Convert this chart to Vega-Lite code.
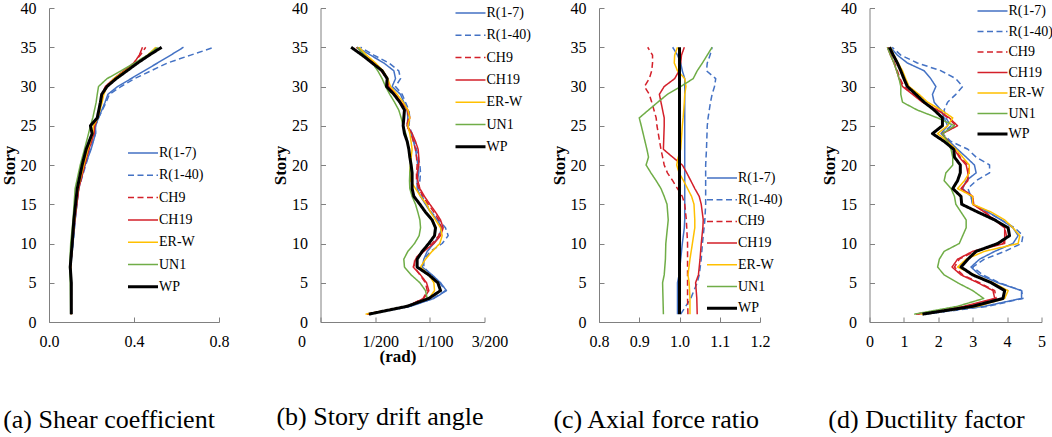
{
  "$schema": "https://vega.github.io/schema/vega-lite/v6.json",
  "padding": {"left": 0, "top": 0, "right": 0, "bottom": 0},
  "background": "white",
  "datasets": {
    "a": [
      {"s": 1, "R(1-7)": 0.105, "R(1-40)": 0.105, "CH9": 0.105, "CH19": 0.105, "ER-W": 0.105, "UN1": 0.102, "WP": 0.105},
      {"s": 5, "R(1-7)": 0.105, "R(1-40)": 0.105, "CH9": 0.105, "CH19": 0.105, "ER-W": 0.105, "UN1": 0.100, "WP": 0.105},
      {"s": 7, "R(1-7)": 0.102, "R(1-40)": 0.102, "CH9": 0.102, "CH19": 0.102, "ER-W": 0.102, "UN1": 0.097, "WP": 0.100},
      {"s": 10, "R(1-7)": 0.113, "R(1-40)": 0.113, "CH9": 0.109, "CH19": 0.110, "ER-W": 0.109, "UN1": 0.102, "WP": 0.109},
      {"s": 13, "R(1-7)": 0.123, "R(1-40)": 0.123, "CH9": 0.120, "CH19": 0.122, "ER-W": 0.120, "UN1": 0.113, "WP": 0.117},
      {"s": 17, "R(1-7)": 0.139, "R(1-40)": 0.140, "CH9": 0.139, "CH19": 0.140, "ER-W": 0.136, "UN1": 0.123, "WP": 0.133},
      {"s": 20, "R(1-7)": 0.170, "R(1-40)": 0.173, "CH9": 0.167, "CH19": 0.168, "ER-W": 0.164, "UN1": 0.147, "WP": 0.156},
      {"s": 22, "R(1-7)": 0.198, "R(1-40)": 0.195, "CH9": 0.186, "CH19": 0.188, "ER-W": 0.183, "UN1": 0.167, "WP": 0.175},
      {"s": 24, "R(1-7)": 0.219, "R(1-40)": 0.219, "CH9": 0.211, "CH19": 0.212, "ER-W": 0.206, "UN1": 0.186, "WP": 0.203},
      {"s": 25, "R(1-7)": 0.219, "R(1-40)": 0.219, "CH9": 0.214, "CH19": 0.215, "ER-W": 0.209, "UN1": 0.195, "WP": 0.195},
      {"s": 26, "R(1-7)": 0.233, "R(1-40)": 0.233, "CH9": 0.230, "CH19": 0.228, "ER-W": 0.230, "UN1": 0.206, "WP": 0.227},
      {"s": 28, "R(1-7)": 0.264, "R(1-40)": 0.269, "CH9": 0.245, "CH19": 0.243, "ER-W": 0.250, "UN1": 0.222, "WP": 0.242},
      {"s": 29, "R(1-7)": 0.277, "R(1-40)": 0.284, "CH9": 0.253, "CH19": 0.250, "ER-W": 0.258, "UN1": 0.227, "WP": 0.248},
      {"s": 30, "R(1-7)": 0.323, "R(1-40)": 0.339, "CH9": 0.269, "CH19": 0.265, "ER-W": 0.273, "UN1": 0.233, "WP": 0.273},
      {"s": 31, "R(1-7)": 0.386, "R(1-40)": 0.402, "CH9": 0.308, "CH19": 0.305, "ER-W": 0.305, "UN1": 0.273, "WP": 0.316},
      {"s": 32, "R(1-7)": 0.448, "R(1-40)": 0.480, "CH9": 0.355, "CH19": 0.352, "ER-W": 0.358, "UN1": 0.339, "WP": 0.367},
      {"s": 33, "R(1-7)": 0.511, "R(1-40)": 0.558, "CH9": 0.398, "CH19": 0.400, "ER-W": 0.414, "UN1": 0.402, "WP": 0.417},
      {"s": 34, "R(1-7)": 0.573, "R(1-40)": 0.667, "CH9": 0.430, "CH19": 0.425, "ER-W": 0.464, "UN1": 0.464, "WP": 0.472},
      {"s": 35, "R(1-7)": 0.633, "R(1-40)": 0.777, "CH9": 0.455, "CH19": 0.440, "ER-W": 0.503, "UN1": 0.511, "WP": 0.530}
    ],
    "b": [
      {"s": 1, "R(1-7)": 0.00442, "R(1-40)": 0.00442, "CH9": 0.00427, "CH19": 0.00427, "ER-W": 0.00412, "UN1": 0.00457, "WP": 0.00442},
      {"s": 2, "R(1-7)": 0.00823, "R(1-40)": 0.00823, "CH9": 0.00793, "CH19": 0.00793, "ER-W": 0.00793, "UN1": 0.00793, "WP": 0.00793},
      {"s": 3, "R(1-7)": 0.01037, "R(1-40)": 0.01030, "CH9": 0.00939, "CH19": 0.00945, "ER-W": 0.00991, "UN1": 0.00976, "WP": 0.00991},
      {"s": 4, "R(1-7)": 0.01152, "R(1-40)": 0.01143, "CH9": 0.00976, "CH19": 0.00991, "ER-W": 0.01043, "UN1": 0.00960, "WP": 0.01098},
      {"s": 5, "R(1-7)": 0.01098, "R(1-40)": 0.01091, "CH9": 0.00960, "CH19": 0.00970, "ER-W": 0.01037, "UN1": 0.00909, "WP": 0.01073},
      {"s": 6, "R(1-7)": 0.01021, "R(1-40)": 0.01012, "CH9": 0.00909, "CH19": 0.00915, "ER-W": 0.00991, "UN1": 0.00829, "WP": 0.00991},
      {"s": 7, "R(1-7)": 0.00930, "R(1-40)": 0.00945, "CH9": 0.00860, "CH19": 0.00848, "ER-W": 0.00915, "UN1": 0.00768, "WP": 0.00884},
      {"s": 8, "R(1-7)": 0.00945, "R(1-40)": 0.00945, "CH9": 0.00860, "CH19": 0.00869, "ER-W": 0.00960, "UN1": 0.00762, "WP": 0.00884},
      {"s": 9, "R(1-7)": 0.00976, "R(1-40)": 0.01006, "CH9": 0.00930, "CH19": 0.00945, "ER-W": 0.01021, "UN1": 0.00799, "WP": 0.00930},
      {"s": 10, "R(1-7)": 0.01037, "R(1-40)": 0.01113, "CH9": 0.01021, "CH19": 0.01037, "ER-W": 0.01091, "UN1": 0.00860, "WP": 0.00991},
      {"s": 11, "R(1-7)": 0.01082, "R(1-40)": 0.01168, "CH9": 0.01082, "CH19": 0.01098, "ER-W": 0.01113, "UN1": 0.00902, "WP": 0.01043},
      {"s": 12, "R(1-7)": 0.01113, "R(1-40)": 0.01143, "CH9": 0.01104, "CH19": 0.01122, "ER-W": 0.01098, "UN1": 0.00915, "WP": 0.01052},
      {"s": 13, "R(1-7)": 0.01067, "R(1-40)": 0.01082, "CH9": 0.01082, "CH19": 0.01098, "ER-W": 0.01052, "UN1": 0.00909, "WP": 0.01021},
      {"s": 14, "R(1-7)": 0.01006, "R(1-40)": 0.01012, "CH9": 0.01037, "CH19": 0.01052, "ER-W": 0.01006, "UN1": 0.00890, "WP": 0.00960},
      {"s": 15, "R(1-7)": 0.00960, "R(1-40)": 0.00970, "CH9": 0.00985, "CH19": 0.01000, "ER-W": 0.00970, "UN1": 0.00869, "WP": 0.00909},
      {"s": 16, "R(1-7)": 0.00915, "R(1-40)": 0.00930, "CH9": 0.00939, "CH19": 0.00951, "ER-W": 0.00915, "UN1": 0.00838, "WP": 0.00854},
      {"s": 17, "R(1-7)": 0.00884, "R(1-40)": 0.00899, "CH9": 0.00899, "CH19": 0.00909, "ER-W": 0.00869, "UN1": 0.00817, "WP": 0.00838},
      {"s": 18, "R(1-7)": 0.00884, "R(1-40)": 0.00909, "CH9": 0.00878, "CH19": 0.00890, "ER-W": 0.00823, "UN1": 0.00814, "WP": 0.00838},
      {"s": 19, "R(1-7)": 0.00899, "R(1-40)": 0.00915, "CH9": 0.00878, "CH19": 0.00884, "ER-W": 0.00817, "UN1": 0.00817, "WP": 0.00838},
      {"s": 20, "R(1-7)": 0.00890, "R(1-40)": 0.00909, "CH9": 0.00884, "CH19": 0.00899, "ER-W": 0.00823, "UN1": 0.00823, "WP": 0.00829},
      {"s": 21, "R(1-7)": 0.00880, "R(1-40)": 0.00895, "CH9": 0.00878, "CH19": 0.00899, "ER-W": 0.00830, "UN1": 0.00815, "WP": 0.00817},
      {"s": 22, "R(1-7)": 0.00869, "R(1-40)": 0.00878, "CH9": 0.00869, "CH19": 0.00893, "ER-W": 0.00838, "UN1": 0.00808, "WP": 0.00808},
      {"s": 23, "R(1-7)": 0.00850, "R(1-40)": 0.00860, "CH9": 0.00850, "CH19": 0.00869, "ER-W": 0.00828, "UN1": 0.00795, "WP": 0.00793},
      {"s": 24, "R(1-7)": 0.00829, "R(1-40)": 0.00838, "CH9": 0.00829, "CH19": 0.00838, "ER-W": 0.00817, "UN1": 0.00780, "WP": 0.00768},
      {"s": 25, "R(1-7)": 0.00793, "R(1-40)": 0.00808, "CH9": 0.00787, "CH19": 0.00793, "ER-W": 0.00799, "UN1": 0.00756, "WP": 0.00756},
      {"s": 26, "R(1-7)": 0.00799, "R(1-40)": 0.00817, "CH9": 0.00808, "CH19": 0.00817, "ER-W": 0.00817, "UN1": 0.00738, "WP": 0.00762},
      {"s": 27, "R(1-7)": 0.00793, "R(1-40)": 0.00808, "CH9": 0.00793, "CH19": 0.00799, "ER-W": 0.00799, "UN1": 0.00716, "WP": 0.00768},
      {"s": 28, "R(1-7)": 0.00762, "R(1-40)": 0.00777, "CH9": 0.00732, "CH19": 0.00738, "ER-W": 0.00756, "UN1": 0.00677, "WP": 0.00726},
      {"s": 29, "R(1-7)": 0.00732, "R(1-40)": 0.00747, "CH9": 0.00677, "CH19": 0.00686, "ER-W": 0.00701, "UN1": 0.00634, "WP": 0.00671},
      {"s": 30, "R(1-7)": 0.00655, "R(1-40)": 0.00686, "CH9": 0.00616, "CH19": 0.00625, "ER-W": 0.00640, "UN1": 0.00595, "WP": 0.00604},
      {"s": 31, "R(1-7)": 0.00686, "R(1-40)": 0.00732, "CH9": 0.00604, "CH19": 0.00610, "ER-W": 0.00616, "UN1": 0.00564, "WP": 0.00610},
      {"s": 32, "R(1-7)": 0.00671, "R(1-40)": 0.00716, "CH9": 0.00555, "CH19": 0.00564, "ER-W": 0.00573, "UN1": 0.00524, "WP": 0.00564},
      {"s": 33, "R(1-7)": 0.00579, "R(1-40)": 0.00625, "CH9": 0.00482, "CH19": 0.00488, "ER-W": 0.00503, "UN1": 0.00473, "WP": 0.00473},
      {"s": 34, "R(1-7)": 0.00457, "R(1-40)": 0.00488, "CH9": 0.00396, "CH19": 0.00402, "ER-W": 0.00421, "UN1": 0.00402, "WP": 0.00381},
      {"s": 35, "R(1-7)": 0.00335, "R(1-40)": 0.00366, "CH9": 0.00329, "CH19": 0.00335, "ER-W": 0.00351, "UN1": 0.00335, "WP": 0.00280}
    ],
    "c": [
      {"s": 1, "R(1-7)": 0.995, "R(1-40)": 1.003, "CH9": 1.021, "CH19": 1.044, "ER-W": 1.026, "UN1": 0.960, "WP": 1.0},
      {"s": 3, "R(1-7)": 0.995, "R(1-40)": 1.028, "CH9": 1.020, "CH19": 1.043, "ER-W": 1.026, "UN1": 0.959, "WP": 1.0},
      {"s": 5, "R(1-7)": 0.995, "R(1-40)": 1.044, "CH9": 1.020, "CH19": 1.040, "ER-W": 1.024, "UN1": 0.958, "WP": 1.0},
      {"s": 6, "R(1-7)": 0.999, "R(1-40)": 1.049, "CH9": 1.020, "CH19": 1.047, "ER-W": 1.021, "UN1": 0.962, "WP": 1.0},
      {"s": 8, "R(1-7)": 1.003, "R(1-40)": 1.054, "CH9": 1.020, "CH19": 1.051, "ER-W": 1.026, "UN1": 0.965, "WP": 1.0},
      {"s": 10, "R(1-7)": 1.007, "R(1-40)": 1.057, "CH9": 1.020, "CH19": 1.054, "ER-W": 1.032, "UN1": 0.966, "WP": 1.0},
      {"s": 12, "R(1-7)": 1.012, "R(1-40)": 1.061, "CH9": 1.018, "CH19": 1.058, "ER-W": 1.038, "UN1": 0.970, "WP": 1.0},
      {"s": 13, "R(1-7)": 1.013, "R(1-40)": 1.063, "CH9": 1.017, "CH19": 1.059, "ER-W": 1.038, "UN1": 0.972, "WP": 1.0},
      {"s": 15, "R(1-7)": 1.013, "R(1-40)": 1.065, "CH9": 1.013, "CH19": 1.054, "ER-W": 1.036, "UN1": 0.969, "WP": 1.0},
      {"s": 16, "R(1-7)": 1.013, "R(1-40)": 1.065, "CH9": 1.007, "CH19": 1.049, "ER-W": 1.030, "UN1": 0.962, "WP": 1.0},
      {"s": 17, "R(1-7)": 1.013, "R(1-40)": 1.065, "CH9": 0.995, "CH19": 1.038, "ER-W": 1.020, "UN1": 0.954, "WP": 1.0},
      {"s": 18, "R(1-7)": 1.013, "R(1-40)": 1.065, "CH9": 0.983, "CH19": 1.028, "ER-W": 1.010, "UN1": 0.942, "WP": 1.0},
      {"s": 19, "R(1-7)": 1.013, "R(1-40)": 1.065, "CH9": 0.970, "CH19": 1.018, "ER-W": 0.999, "UN1": 0.929, "WP": 1.0},
      {"s": 20, "R(1-7)": 1.013, "R(1-40)": 1.065, "CH9": 0.962, "CH19": 1.007, "ER-W": 0.993, "UN1": 0.917, "WP": 1.0},
      {"s": 21, "R(1-7)": 1.013, "R(1-40)": 1.066, "CH9": 0.958, "CH19": 0.983, "ER-W": 0.997, "UN1": 0.923, "WP": 1.0},
      {"s": 22, "R(1-7)": 1.013, "R(1-40)": 1.067, "CH9": 0.954, "CH19": 0.960, "ER-W": 1.003, "UN1": 0.919, "WP": 1.0},
      {"s": 25, "R(1-7)": 1.013, "R(1-40)": 1.069, "CH9": 0.944, "CH19": 0.962, "ER-W": 1.007, "UN1": 0.905, "WP": 1.0},
      {"s": 26, "R(1-7)": 1.013, "R(1-40)": 1.071, "CH9": 0.942, "CH19": 0.962, "ER-W": 1.009, "UN1": 0.900, "WP": 1.0},
      {"s": 28, "R(1-7)": 1.013, "R(1-40)": 1.077, "CH9": 0.931, "CH19": 0.954, "ER-W": 1.012, "UN1": 0.946, "WP": 1.0},
      {"s": 29, "R(1-7)": 1.013, "R(1-40)": 1.081, "CH9": 0.925, "CH19": 0.950, "ER-W": 1.013, "UN1": 0.970, "WP": 1.0},
      {"s": 30, "R(1-7)": 1.013, "R(1-40)": 1.087, "CH9": 0.913, "CH19": 0.962, "ER-W": 1.016, "UN1": 1.003, "WP": 1.0},
      {"s": 31, "R(1-7)": 1.013, "R(1-40)": 1.090, "CH9": 0.925, "CH19": 0.988, "ER-W": 1.013, "UN1": 1.034, "WP": 1.0},
      {"s": 32, "R(1-7)": 1.007, "R(1-40)": 1.067, "CH9": 0.931, "CH19": 0.999, "ER-W": 0.995, "UN1": 1.044, "WP": 1.0},
      {"s": 33, "R(1-7)": 1.003, "R(1-40)": 1.069, "CH9": 0.933, "CH19": 1.003, "ER-W": 0.987, "UN1": 1.057, "WP": 1.0},
      {"s": 34, "R(1-7)": 0.995, "R(1-40)": 1.076, "CH9": 0.933, "CH19": 1.005, "ER-W": 0.988, "UN1": 1.069, "WP": 1.0},
      {"s": 35, "R(1-7)": 0.983, "R(1-40)": 1.081, "CH9": 0.921, "CH19": 1.012, "ER-W": 0.995, "UN1": 1.081, "WP": 1.0}
    ],
    "d": [
      {"s": 1, "R(1-7)": 1.54, "R(1-40)": 1.59, "CH9": 1.39, "CH19": 1.35, "ER-W": 1.49, "UN1": 1.30, "WP": 1.54},
      {"s": 2, "R(1-7)": 3.34, "R(1-40)": 3.44, "CH9": 2.81, "CH19": 2.76, "ER-W": 3.15, "UN1": 2.56, "WP": 3.00},
      {"s": 3, "R(1-7)": 4.42, "R(1-40)": 4.46, "CH9": 3.68, "CH19": 3.64, "ER-W": 3.93, "UN1": 3.32, "WP": 3.88},
      {"s": 4, "R(1-7)": 4.42, "R(1-40)": 4.42, "CH9": 3.64, "CH19": 3.59, "ER-W": 4.03, "UN1": 3.00, "WP": 3.93},
      {"s": 5, "R(1-7)": 3.73, "R(1-40)": 3.78, "CH9": 3.20, "CH19": 3.15, "ER-W": 3.59, "UN1": 2.56, "WP": 3.54},
      {"s": 6, "R(1-7)": 3.20, "R(1-40)": 3.29, "CH9": 2.71, "CH19": 2.66, "ER-W": 3.05, "UN1": 2.17, "WP": 3.00},
      {"s": 7, "R(1-7)": 2.95, "R(1-40)": 3.00, "CH9": 2.47, "CH19": 2.40, "ER-W": 2.56, "UN1": 1.98, "WP": 2.66},
      {"s": 8, "R(1-7)": 3.20, "R(1-40)": 3.34, "CH9": 2.61, "CH19": 2.56, "ER-W": 2.81, "UN1": 2.03, "WP": 2.86},
      {"s": 9, "R(1-7)": 3.64, "R(1-40)": 3.93, "CH9": 3.05, "CH19": 3.00, "ER-W": 3.34, "UN1": 2.17, "WP": 3.10},
      {"s": 10, "R(1-7)": 4.17, "R(1-40)": 4.42, "CH9": 3.88, "CH19": 3.93, "ER-W": 4.32, "UN1": 2.61, "WP": 3.73},
      {"s": 11, "R(1-7)": 4.32, "R(1-40)": 4.46, "CH9": 3.98, "CH19": 3.93, "ER-W": 4.37, "UN1": 2.71, "WP": 4.07},
      {"s": 12, "R(1-7)": 4.17, "R(1-40)": 4.22, "CH9": 3.93, "CH19": 3.93, "ER-W": 4.17, "UN1": 2.81, "WP": 4.03},
      {"s": 13, "R(1-7)": 3.83, "R(1-40)": 3.83, "CH9": 3.65, "CH19": 3.64, "ER-W": 3.93, "UN1": 2.81, "WP": 3.64},
      {"s": 14, "R(1-7)": 3.44, "R(1-40)": 3.44, "CH9": 3.36, "CH19": 3.34, "ER-W": 3.54, "UN1": 2.66, "WP": 3.15},
      {"s": 15, "R(1-7)": 3.00, "R(1-40)": 3.00, "CH9": 3.03, "CH19": 3.00, "ER-W": 3.00, "UN1": 2.51, "WP": 2.68},
      {"s": 16, "R(1-7)": 2.95, "R(1-40)": 2.95, "CH9": 3.00, "CH19": 3.00, "ER-W": 3.00, "UN1": 2.47, "WP": 2.66},
      {"s": 17, "R(1-7)": 2.71, "R(1-40)": 2.86, "CH9": 2.68, "CH19": 2.66, "ER-W": 2.56, "UN1": 2.37, "WP": 2.42},
      {"s": 18, "R(1-7)": 2.81, "R(1-40)": 3.10, "CH9": 2.84, "CH19": 2.86, "ER-W": 2.76, "UN1": 2.17, "WP": 2.56},
      {"s": 19, "R(1-7)": 3.10, "R(1-40)": 3.49, "CH9": 2.90, "CH19": 2.86, "ER-W": 2.90, "UN1": 2.22, "WP": 2.64},
      {"s": 20, "R(1-7)": 3.05, "R(1-40)": 3.49, "CH9": 2.86, "CH19": 2.81, "ER-W": 2.90, "UN1": 2.42, "WP": 2.64},
      {"s": 21, "R(1-7)": 2.81, "R(1-40)": 3.10, "CH9": 2.64, "CH19": 2.61, "ER-W": 2.71, "UN1": 2.42, "WP": 2.47},
      {"s": 22, "R(1-7)": 2.56, "R(1-40)": 2.86, "CH9": 2.49, "CH19": 2.47, "ER-W": 2.51, "UN1": 2.37, "WP": 2.45},
      {"s": 23, "R(1-7)": 2.32, "R(1-40)": 2.37, "CH9": 2.29, "CH19": 2.27, "ER-W": 2.27, "UN1": 2.27, "WP": 2.17},
      {"s": 24, "R(1-7)": 2.08, "R(1-40)": 2.12, "CH9": 2.12, "CH19": 2.12, "ER-W": 1.98, "UN1": 2.12, "WP": 1.83},
      {"s": 25, "R(1-7)": 2.27, "R(1-40)": 2.37, "CH9": 2.51, "CH19": 2.56, "ER-W": 2.27, "UN1": 2.47, "WP": 2.12},
      {"s": 26, "R(1-7)": 2.17, "R(1-40)": 2.22, "CH9": 2.29, "CH19": 2.32, "ER-W": 2.42, "UN1": 1.98, "WP": 2.12},
      {"s": 27, "R(1-7)": 2.08, "R(1-40)": 2.17, "CH9": 1.98, "CH19": 1.98, "ER-W": 2.08, "UN1": 1.39, "WP": 1.88},
      {"s": 28, "R(1-7)": 1.88, "R(1-40)": 2.27, "CH9": 1.59, "CH19": 1.54, "ER-W": 1.69, "UN1": 0.96, "WP": 1.59},
      {"s": 29, "R(1-7)": 1.83, "R(1-40)": 2.51, "CH9": 1.28, "CH19": 1.25, "ER-W": 1.44, "UN1": 0.91, "WP": 1.35},
      {"s": 30, "R(1-7)": 1.93, "R(1-40)": 2.71, "CH9": 1.00, "CH19": 0.96, "ER-W": 1.15, "UN1": 0.91, "WP": 1.10},
      {"s": 31, "R(1-7)": 1.78, "R(1-40)": 2.51, "CH9": 0.89, "CH19": 0.86, "ER-W": 1.05, "UN1": 0.86, "WP": 1.00},
      {"s": 32, "R(1-7)": 1.59, "R(1-40)": 2.08, "CH9": 0.81, "CH19": 0.79, "ER-W": 0.96, "UN1": 0.79, "WP": 0.91},
      {"s": 33, "R(1-7)": 1.10, "R(1-40)": 1.39, "CH9": 0.73, "CH19": 0.71, "ER-W": 0.83, "UN1": 0.71, "WP": 0.81},
      {"s": 34, "R(1-7)": 0.81, "R(1-40)": 0.91, "CH9": 0.63, "CH19": 0.61, "ER-W": 0.71, "UN1": 0.61, "WP": 0.69},
      {"s": 35, "R(1-7)": 0.61, "R(1-40)": 0.66, "CH9": 0.54, "CH19": 0.52, "ER-W": 0.61, "UN1": 0.52, "WP": 0.58}
    ]
  },
  "hconcat": [
    {
      "width": 170,
      "height": 314,
      "data": {"name": "a"},
      "transform": [{"fold": ["R(1-7)", "R(1-40)", "CH9", "CH19", "ER-W", "UN1", "WP"], "as": ["series", "value"]}],
      "title": {"text": "(a) Shear coefficient", "orient": "bottom", "frame": "group", "anchor": "middle", "dx": -25, "offset": 58},
      "mark": {"type": "line", "strokeJoin": "round"},
      "encoding": {
        "x": {"field": "value", "type": "quantitative", "scale": {"domain": [0, 0.8], "nice": false}, "axis": {"values": [0, 0.4, 0.8], "format": ".1f", "title": null}},
        "y": {"field": "s", "type": "quantitative", "scale": {"domain": [0, 40], "nice": false}, "axis": {"values": [0, 5, 10, 15, 20, 25, 30, 35, 40], "title": "Story"}},
        "order": {"field": "s", "type": "quantitative"},
        "color": {"field": "series", "type": "nominal", "scale": {"domain": ["R(1-7)", "R(1-40)", "CH9", "CH19", "ER-W", "UN1", "WP"], "range": ["#4472C4", "#4472C4", "#D4202A", "#D4202A", "#FFC000", "#70AD47", "#000000"]},
          "legend": {"legendX": 87, "legendY": 138, "rowPadding": 8.3, "encode": {"symbols": {"update": {"size": {"value": 900}, "strokeWidth": {"signal": "datum.value === 'WP' ? 3 : 1.5"}}}}}},
        "strokeDash": {"field": "series", "type": "nominal", "scale": {"domain": ["R(1-7)", "R(1-40)", "CH9", "CH19", "ER-W", "UN1", "WP"], "range": [[1, 0], [6, 3.5], [6, 3.5], [1, 0], [1, 0], [1, 0], [1, 0]]},
          "legend": {"legendX": 87, "legendY": 138, "rowPadding": 8.3, "encode": {"symbols": {"update": {"size": {"value": 900}, "strokeWidth": {"signal": "datum.value === 'WP' ? 3 : 1.5"}}}}}},
        "strokeWidth": {"condition": {"test": "datum.series === 'WP'", "value": 3}, "value": 1.5}
      }
    },
    {
      "width": 177,
      "height": 314,
      "data": {"name": "b"},
      "transform": [{"fold": ["R(1-7)", "R(1-40)", "CH9", "CH19", "ER-W", "UN1", "WP"], "as": ["series", "value"]}],
      "title": {"text": "(b) Story drift angle", "orient": "bottom", "frame": "group", "anchor": "middle", "dx": -29, "offset": 40},
      "mark": {"type": "line", "strokeJoin": "round"},
      "encoding": {
        "x": {"field": "value", "type": "quantitative", "scale": {"domain": [0, 0.015], "nice": false, "range": [0, 164]},
          "axis": {"values": [0, 0.005, 0.01, 0.015], "labelExpr": "['0','1/200','1/100','3/200'][round(datum.value*200)]", "labelOffset": {"condition": {"test": "datum.value == 0", "value": -19}, "value": 5}, "title": "(rad)", "titleBaseline": "top", "titleX": 77, "titleY": 26}},
        "y": {"field": "s", "type": "quantitative", "scale": {"domain": [0, 40], "nice": false}, "axis": {"values": [0, 5, 10, 15, 20, 25, 30, 35, 40], "title": "Story"}},
        "order": {"field": "s", "type": "quantitative"},
        "color": {"field": "series", "type": "nominal", "scale": {"domain": ["R(1-7)", "R(1-40)", "CH9", "CH19", "ER-W", "UN1", "WP"], "range": ["#4472C4", "#4472C4", "#D4202A", "#D4202A", "#FFC000", "#70AD47", "#000000"]},
          "legend": {"legendX": 143, "legendY": -2, "rowPadding": 8.3, "encode": {"symbols": {"update": {"size": {"value": 900}, "strokeWidth": {"signal": "datum.value === 'WP' ? 3 : 1.5"}}}}}},
        "strokeDash": {"field": "series", "type": "nominal", "scale": {"domain": ["R(1-7)", "R(1-40)", "CH9", "CH19", "ER-W", "UN1", "WP"], "range": [[1, 0], [6, 3.5], [6, 3.5], [1, 0], [1, 0], [1, 0], [1, 0]]},
          "legend": {"legendX": 143, "legendY": -2, "rowPadding": 8.3, "encode": {"symbols": {"update": {"size": {"value": 900}, "strokeWidth": {"signal": "datum.value === 'WP' ? 3 : 1.5"}}}}}},
        "strokeWidth": {"condition": {"test": "datum.series === 'WP'", "value": 3}, "value": 1.5}
      }
    },
    {
      "width": 168.5,
      "height": 314,
      "data": {"name": "c"},
      "transform": [{"fold": ["R(1-7)", "R(1-40)", "CH9", "CH19", "ER-W", "UN1", "WP"], "as": ["series", "value"]}],
      "title": {"text": "(c) Axial force ratio", "orient": "bottom", "frame": "group", "anchor": "middle", "dx": -27, "offset": 58},
      "mark": {"type": "line", "strokeJoin": "round"},
      "encoding": {
        "x": {"field": "value", "type": "quantitative", "scale": {"domain": [0.8, 1.2], "nice": false, "zero": false, "range": [0, 161]}, "axis": {"values": [0.8, 0.9, 1.0, 1.1, 1.2], "format": ".1f", "title": null}},
        "y": {"field": "s", "type": "quantitative", "scale": {"domain": [0, 40], "nice": false}, "axis": {"values": [0, 5, 10, 15, 20, 25, 30, 35, 40], "title": "Story"}},
        "order": {"field": "s", "type": "quantitative"},
        "color": {"field": "series", "type": "nominal", "scale": {"domain": ["R(1-7)", "R(1-40)", "CH9", "CH19", "ER-W", "UN1", "WP"], "range": ["#4472C4", "#4472C4", "#D4202A", "#D4202A", "#FFC000", "#70AD47", "#000000"]},
          "legend": {"legendX": 116, "legendY": 163, "rowPadding": 7.7, "encode": {"symbols": {"update": {"size": {"value": 900}, "strokeWidth": {"signal": "datum.value === 'WP' ? 3 : 1.5"}}}}}},
        "strokeDash": {"field": "series", "type": "nominal", "scale": {"domain": ["R(1-7)", "R(1-40)", "CH9", "CH19", "ER-W", "UN1", "WP"], "range": [[1, 0], [6, 3.5], [6, 3.5], [1, 0], [1, 0], [1, 0], [1, 0]]},
          "legend": {"legendX": 116, "legendY": 163, "rowPadding": 7.7, "encode": {"symbols": {"update": {"size": {"value": 900}, "strokeWidth": {"signal": "datum.value === 'WP' ? 3 : 1.5"}}}}}},
        "strokeWidth": {"condition": {"test": "datum.series === 'WP'", "value": 3}, "value": 1.5}
      }
    },
    {
      "width": 172,
      "height": 314,
      "data": {"name": "d"},
      "transform": [{"fold": ["R(1-7)", "R(1-40)", "CH9", "CH19", "ER-W", "UN1", "WP"], "as": ["series", "value"]}],
      "title": {"text": "(d) Ductility factor", "orient": "bottom", "frame": "group", "anchor": "middle", "dx": -29, "offset": 58},
      "mark": {"type": "line", "strokeJoin": "round"},
      "encoding": {
        "x": {"field": "value", "type": "quantitative", "scale": {"domain": [0, 5], "nice": false}, "axis": {"values": [0, 1, 2, 3, 4, 5], "title": null}},
        "y": {"field": "s", "type": "quantitative", "scale": {"domain": [0, 40], "nice": false}, "axis": {"values": [0, 5, 10, 15, 20, 25, 30, 35, 40], "title": "Story"}},
        "order": {"field": "s", "type": "quantitative"},
        "color": {"field": "series", "type": "nominal", "scale": {"domain": ["R(1-7)", "R(1-40)", "CH9", "CH19", "ER-W", "UN1", "WP"], "range": ["#4472C4", "#4472C4", "#D4202A", "#D4202A", "#FFC000", "#70AD47", "#000000"]},
          "legend": {"legendX": 116, "legendY": -4, "rowPadding": 6.5, "encode": {"symbols": {"update": {"size": {"value": 900}, "strokeWidth": {"signal": "datum.value === 'WP' ? 3 : 1.5"}}}}}},
        "strokeDash": {"field": "series", "type": "nominal", "scale": {"domain": ["R(1-7)", "R(1-40)", "CH9", "CH19", "ER-W", "UN1", "WP"], "range": [[1, 0], [6, 3.5], [6, 3.5], [1, 0], [1, 0], [1, 0], [1, 0]]},
          "legend": {"legendX": 116, "legendY": -4, "rowPadding": 6.5, "encode": {"symbols": {"update": {"size": {"value": 900}, "strokeWidth": {"signal": "datum.value === 'WP' ? 3 : 1.5"}}}}}},
        "strokeWidth": {"condition": {"test": "datum.series === 'WP'", "value": 3}, "value": 1.5}
      }
    }
  ],
  "spacing": 101.5,
  "bounds": "flush",
  "resolve": {
    "scale": {"x": "independent"},
    "legend": {"color": "independent", "strokeDash": "independent"}
  },
  "config": {
    "font": "Liberation Serif",
    "view": {"stroke": null},
    "axis": {
      "grid": false,
      "domainColor": "#808080",
      "tickColor": "#808080",
      "tickSize": -5,
      "labelFont": "Liberation Serif",
      "labelFontSize": 16,
      "labelColor": "#000000",
      "labelFlush": false,
      "titleFont": "Liberation Serif",
      "titleFontSize": 17,
      "titleFontWeight": "bold",
      "titleColor": "#000000"
    },
    "axisX": {"labelPadding": 16},
    "axisY": {"labelPadding": 18, "titlePadding": 2},
    "legend": {
      "orient": "none",
      "direction": "vertical",
      "title": null,
      "padding": 0,
      "symbolType": "M-1,0H1",
      "symbolSize": 900,
      "symbolStrokeWidth": 1.5,
      "labelFont": "Liberation Serif",
      "labelFontSize": 14,
      "labelColor": "#000000",
      "labelOffset": 9
    },
    "title": {"font": "Liberation Serif", "fontSize": 26, "fontWeight": "normal", "color": "#000000"}
  }
}
